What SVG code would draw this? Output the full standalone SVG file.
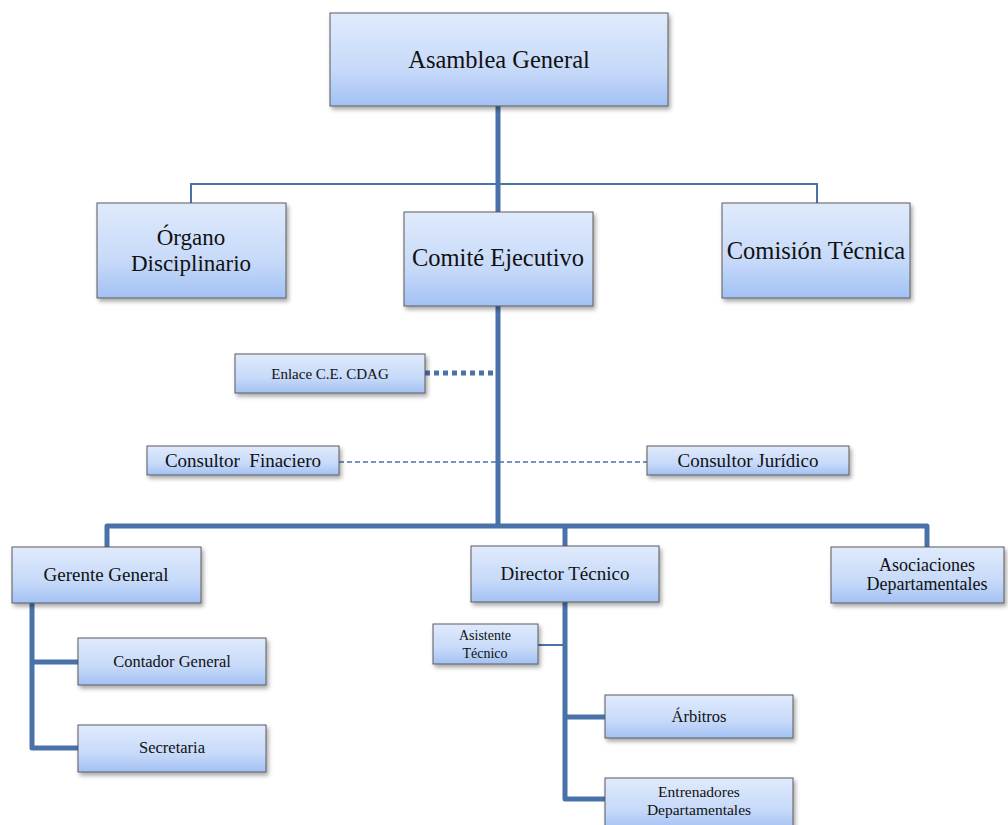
<svg xmlns="http://www.w3.org/2000/svg" width="1008" height="825" viewBox="0 0 1008 825">
<defs>
  <linearGradient id="g" x1="0" y1="0" x2="0" y2="1">
    <stop offset="0" stop-color="#e0eafc"/>
    <stop offset="0.6" stop-color="#c7daf9"/>
    <stop offset="1" stop-color="#a3c1f4"/>
  </linearGradient>
  <filter id="sh" x="-10%" y="-10%" width="125%" height="135%">
    <feDropShadow dx="2" dy="3" stdDeviation="2" flood-color="#000" flood-opacity="0.35"/>
  </filter>
</defs>
<style>
  .box { fill: url(#g); stroke: #5a5a5a; stroke-width: 1; filter: url(#sh); }
  .t { font-family: "Liberation Serif", "Times New Roman", serif; fill: #111; text-anchor: middle; }
  .big { font-size: 24.5px; }
  .big2 { font-size: 23px; }
  .mid { font-size: 19px; }
  .mid2 { font-size: 18px; }
  .sm { font-size: 16.5px; }
  .sm2 { font-size: 15.5px; }
  .xs { font-size: 15px; }
  .xs2 { font-size: 14px; }
  .thick { fill: none; stroke: #4a72aa; stroke-width: 5; stroke-linejoin: round; stroke-linecap: butt; }
  .thin { fill: none; stroke: #4a72aa; stroke-width: 2; }
  .dot { fill: none; stroke: #4a72aa; stroke-width: 5; stroke-dasharray: 5 4; }
  .dash { fill: none; stroke: #4a72aa; stroke-width: 1.5; stroke-dasharray: 5 3; }
</style>
<g id="connectors">
  <path class="thin" d="M191,204 V184 H817 V204"/>
  <path class="thick" d="M498,106 V526"/>
  <path class="dot" d="M425,373 H496"/>
  <path class="dash" d="M339,462 H647"/>
  <path class="thick" d="M107,547 V526 H927 V547"/>
  <path class="thick" d="M565,526 V546"/>
  <path class="thick" d="M78,662 H32 V603 M32,662 V748 H78"/>
  <path class="thin" d="M538,645 H565"/>
  <path class="thick" d="M565,602 V799 H605 M565,717 H605"/>
</g>
<g id="asamblea"><rect class="box" x="330" y="13" width="338" height="93"/><text class="t big" x="499" y="68">Asamblea General</text></g>
<g id="organo"><rect class="box" x="97" y="203" width="189" height="95"/><text class="t big2" x="191" y="245">Órgano</text><text class="t big2" x="191" y="271">Disciplinario</text></g>
<g id="comite"><rect class="box" x="404" y="212" width="189" height="94"/><text class="t big" x="498" y="266">Comité Ejecutivo</text></g>
<g id="comision"><rect class="box" x="722" y="203" width="188" height="95"/><text class="t big" x="816" y="259">Comisión Técnica</text></g>
<g id="enlace"><rect class="box" x="235" y="354" width="190" height="39"/><text class="t xs" x="330" y="379">Enlace C.E. CDAG</text></g>
<g id="consultor-fin"><rect class="box" x="147" y="446" width="192" height="29"/><text class="t mid" x="243" y="467" xml:space="preserve">Consultor  Finaciero</text></g>
<g id="consultor-jur"><rect class="box" x="647" y="446" width="202" height="29"/><text class="t mid" x="748" y="467">Consultor Jurídico</text></g>
<g id="gerente"><rect class="box" x="12" y="547" width="189" height="56"/><text class="t mid" x="106" y="581">Gerente General</text></g>
<g id="director"><rect class="box" x="471" y="546" width="188" height="56"/><text class="t mid" x="565" y="580">Director Técnico</text></g>
<g id="asociaciones"><rect class="box" x="831" y="547" width="173" height="56"/><text class="t mid2" x="927" y="571">Asociaciones</text><text class="t mid2" x="927" y="590">Departamentales</text></g>
<g id="asistente"><rect class="box" x="433" y="624" width="105" height="40"/><text class="t xs2" x="485" y="640">Asistente</text><text class="t xs2" x="485" y="658">Técnico</text></g>
<g id="contador"><rect class="box" x="78" y="638" width="188" height="47"/><text class="t sm" x="172" y="667">Contador General</text></g>
<g id="secretaria"><rect class="box" x="78" y="725" width="188" height="47"/><text class="t sm" x="172" y="753">Secretaria</text></g>
<g id="arbitros"><rect class="box" x="605" y="695" width="188" height="43"/><text class="t sm" x="699" y="722">Árbitros</text></g>
<g id="entrenadores"><rect class="box" x="605" y="778" width="188" height="52"/><text class="t sm2" x="699" y="797">Entrenadores</text><text class="t sm2" x="699" y="815">Departamentales</text></g>
</svg>
